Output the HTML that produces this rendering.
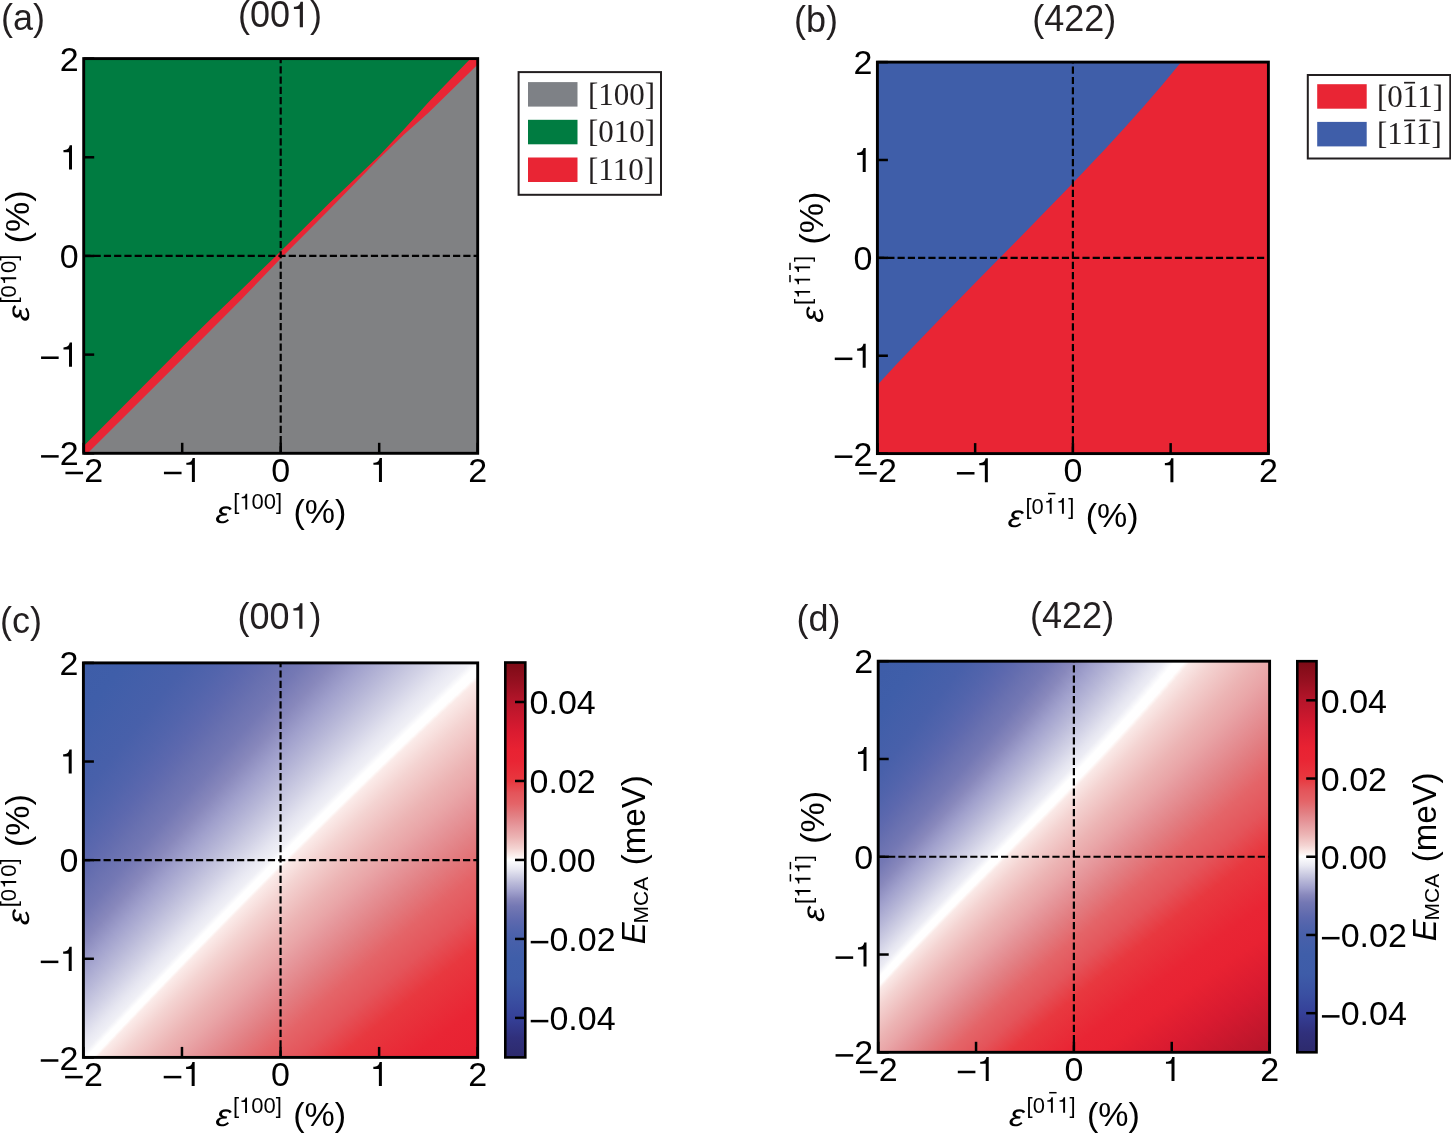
<!DOCTYPE html>
<html><head><meta charset="utf-8"><title>Figure</title>
<style>
html,body{margin:0;padding:0;background:#fff;}
body{width:1451px;height:1133px;overflow:hidden;}
svg{display:block;font-family:"Liberation Sans", sans-serif;will-change:transform;}
svg text{font-family:"Liberation Sans", sans-serif;fill:#000;}
svg text.serif{font-family:"Liberation Serif", serif;fill:#231f20;}
svg text.tc{fill:#231f20;}
</style></head><body>
<svg width="1451" height="1133" viewBox="0 0 1451 1133">
<defs>
<clipPath id="clipa"><rect x="83.7" y="58.6" width="394.00" height="394.70"/></clipPath>
<linearGradient id="hgc" gradientUnits="userSpaceOnUse"><stop offset="0.00000" stop-color="#2d2a6c"/><stop offset="0.05415" stop-color="#2d2a6c"/><stop offset="0.09927" stop-color="#30307c"/><stop offset="0.14440" stop-color="#354098"/><stop offset="0.18952" stop-color="#3a50a2"/><stop offset="0.23465" stop-color="#3e5ca8"/><stop offset="0.25089" stop-color="#3e5da8"/><stop offset="0.27946" stop-color="#3f5ea9"/><stop offset="0.32411" stop-color="#4860aa"/><stop offset="0.34732" stop-color="#5264ac"/><stop offset="0.36429" stop-color="#5c68ae"/><stop offset="0.37589" stop-color="#646daf"/><stop offset="0.38143" stop-color="#6870b0"/><stop offset="0.39898" stop-color="#7478b4"/><stop offset="0.41653" stop-color="#8888bc"/><stop offset="0.43315" stop-color="#a0a0cc"/><stop offset="0.43777" stop-color="#a6a6cf"/><stop offset="0.45144" stop-color="#b8b8d8"/><stop offset="0.46784" stop-color="#cfcfe4"/><stop offset="0.46875" stop-color="#d0d0e5"/><stop offset="0.48125" stop-color="#e3e3ef"/><stop offset="0.48500" stop-color="#e8e8f2"/><stop offset="0.49232" stop-color="#f0f0f6"/><stop offset="0.49723" stop-color="#ffffff"/><stop offset="0.50000" stop-color="#ffffff"/><stop offset="0.50277" stop-color="#fffefe"/><stop offset="0.50473" stop-color="#fcf0ee"/><stop offset="0.50545" stop-color="#fbebe9"/><stop offset="0.51875" stop-color="#f5d7d5"/><stop offset="0.52067" stop-color="#f4d4d2"/><stop offset="0.53125" stop-color="#f1c7c6"/><stop offset="0.54721" stop-color="#ecb4b4"/><stop offset="0.56223" stop-color="#e9a5a7"/><stop offset="0.57325" stop-color="#e6989c"/><stop offset="0.59698" stop-color="#e27e82"/><stop offset="0.62072" stop-color="#e46468"/><stop offset="0.62411" stop-color="#e46266"/><stop offset="0.64452" stop-color="#e4545a"/><stop offset="0.67003" stop-color="#e8383f"/><stop offset="0.71254" stop-color="#e92534"/><stop offset="0.73805" stop-color="#e82232"/><stop offset="0.74911" stop-color="#e42031"/><stop offset="0.78058" stop-color="#d81a30"/><stop offset="0.84011" stop-color="#b5152a"/><stop offset="0.88263" stop-color="#961020"/><stop offset="0.92516" stop-color="#7c0b16"/><stop offset="1.00000" stop-color="#7c0b16"/></linearGradient>
<clipPath id="clipc"><rect x="83.4" y="662.9" width="394.30" height="394.50"/></clipPath>
<linearGradient id="hgc_0" href="#hgc" x1="-251.08" y1="718.83" x2="428.58" y2="1398.14"/>
<linearGradient id="hgc_1" href="#hgc" x1="-245.98" y1="709.74" x2="437.21" y2="1392.59"/>
<linearGradient id="hgc_2" href="#hgc" x1="-240.88" y1="700.65" x2="445.87" y2="1387.06"/>
<linearGradient id="hgc_3" href="#hgc" x1="-235.80" y1="691.55" x2="454.56" y2="1381.55"/>
<linearGradient id="hgc_4" href="#hgc" x1="-230.73" y1="682.43" x2="463.27" y2="1376.08"/>
<linearGradient id="hgc_5" href="#hgc" x1="-225.67" y1="673.31" x2="472.01" y2="1370.63"/>
<linearGradient id="hgc_6" href="#hgc" x1="-220.62" y1="664.17" x2="480.77" y2="1365.21"/>
<linearGradient id="hgc_7" href="#hgc" x1="-215.59" y1="655.02" x2="489.57" y2="1359.81"/>
<linearGradient id="hgc_8" href="#hgc" x1="-210.56" y1="645.86" x2="498.39" y2="1354.45"/>
<linearGradient id="hgc_9" href="#hgc" x1="-205.55" y1="636.68" x2="507.24" y2="1349.11"/>
<linearGradient id="hgc_10" href="#hgc" x1="-200.55" y1="627.50" x2="516.12" y2="1343.81"/>
<linearGradient id="hgc_11" href="#hgc" x1="-195.57" y1="618.30" x2="525.03" y2="1338.53"/>
<linearGradient id="hgc_12" href="#hgc" x1="-190.59" y1="609.09" x2="533.97" y2="1333.28"/>
<linearGradient id="hgc_13" href="#hgc" x1="-185.63" y1="599.86" x2="542.94" y2="1328.06"/>
<linearGradient id="hgc_14" href="#hgc" x1="-180.69" y1="590.62" x2="551.94" y2="1322.88"/>
<linearGradient id="hgc_15" href="#hgc" x1="-175.76" y1="581.36" x2="560.98" y2="1317.72"/>
<linearGradient id="hgc_16" href="#hgc" x1="-170.84" y1="572.10" x2="570.04" y2="1312.60"/>
<linearGradient id="hgc_17" href="#hgc" x1="-165.94" y1="562.81" x2="579.13" y2="1307.51"/>
<linearGradient id="hgc_18" href="#hgc" x1="-161.05" y1="553.51" x2="588.26" y2="1302.45"/>
<linearGradient id="hgc_19" href="#hgc" x1="-156.18" y1="544.20" x2="597.42" y2="1297.42"/>
<linearGradient id="hgc_20" href="#hgc" x1="-151.33" y1="534.86" x2="606.62" y2="1292.43"/>
<linearGradient id="hgc_21" href="#hgc" x1="-146.49" y1="525.52" x2="615.85" y2="1287.47"/>
<linearGradient id="hgc_22" href="#hgc" x1="-141.67" y1="516.15" x2="625.11" y2="1282.54"/>
<linearGradient id="hgc_23" href="#hgc" x1="-136.87" y1="506.77" x2="634.40" y2="1277.65"/>
<linearGradient id="hgc_24" href="#hgc" x1="-132.08" y1="497.37" x2="643.74" y2="1272.79"/>
<linearGradient id="hgc_25" href="#hgc" x1="-127.31" y1="487.95" x2="653.10" y2="1267.97"/>
<linearGradient id="hgc_26" href="#hgc" x1="-122.57" y1="478.51" x2="662.51" y2="1263.19"/>
<linearGradient id="hgc_27" href="#hgc" x1="-117.84" y1="469.06" x2="671.95" y2="1258.44"/>
<linearGradient id="hgc_28" href="#hgc" x1="-113.13" y1="459.58" x2="681.42" y2="1253.73"/>
<linearGradient id="hgc_29" href="#hgc" x1="-108.44" y1="450.08" x2="690.94" y2="1249.06"/>
<linearGradient id="hgc_30" href="#hgc" x1="-103.77" y1="440.57" x2="700.49" y2="1244.42"/>
<linearGradient id="hgc_31" href="#hgc" x1="-99.12" y1="431.03" x2="710.08" y2="1239.83"/>
<linearGradient id="hgc_32" href="#hgc" x1="-94.50" y1="421.47" x2="719.72" y2="1235.27"/>
<linearGradient id="hgc_33" href="#hgc" x1="-89.89" y1="411.89" x2="729.39" y2="1230.75"/>
<linearGradient id="hgc_34" href="#hgc" x1="-85.31" y1="402.28" x2="739.10" y2="1226.28"/>
<linearGradient id="hgc_35" href="#hgc" x1="-80.75" y1="392.66" x2="748.86" y2="1221.85"/>
<linearGradient id="hgc_36" href="#hgc" x1="-76.22" y1="383.00" x2="758.65" y2="1217.45"/>
<linearGradient id="hgc_37" href="#hgc" x1="-71.71" y1="373.33" x2="768.49" y2="1213.10"/>
<linearGradient id="hgc_38" href="#hgc" x1="-67.23" y1="363.63" x2="778.37" y2="1208.80"/>
<linearGradient id="hgc_39" href="#hgc" x1="-62.77" y1="353.90" x2="788.30" y2="1204.54"/>
<linearGradient id="hgc_40" href="#hgc" x1="-58.34" y1="344.14" x2="798.27" y2="1200.32"/>
<linearGradient id="hgc_41" href="#hgc" x1="-53.93" y1="334.36" x2="808.29" y2="1196.15"/>
<linearGradient id="hgc_42" href="#hgc" x1="-49.56" y1="324.56" x2="818.35" y2="1192.02"/>
<linearGradient id="hgc_43" href="#hgc" x1="-45.21" y1="314.72" x2="828.46" y2="1187.94"/>
<linearGradient id="hgc_44" href="#hgc" x1="-40.89" y1="304.85" x2="838.62" y2="1183.91"/>
<linearGradient id="hgc_45" href="#hgc" x1="-36.60" y1="294.96" x2="848.82" y2="1179.93"/>
<linearGradient id="hgc_46" href="#hgc" x1="-32.34" y1="285.03" x2="859.08" y2="1176.00"/>
<linearGradient id="hgc_47" href="#hgc" x1="-28.11" y1="275.07" x2="869.39" y2="1172.12"/>
<linearGradient id="hgc_48" href="#hgc" x1="-23.92" y1="265.08" x2="879.74" y2="1168.29"/>
<linearGradient id="hgc_49" href="#hgc" x1="-19.75" y1="255.06" x2="890.15" y2="1164.51"/>
<linearGradient id="hgc_50" href="#hgc" x1="-15.63" y1="245.00" x2="900.62" y2="1160.78"/>
<linearGradient id="hgc_51" href="#hgc" x1="-11.53" y1="234.91" x2="911.13" y2="1157.11"/>
<linearGradient id="hgc_52" href="#hgc" x1="-7.48" y1="224.78" x2="921.71" y2="1153.49"/>
<linearGradient id="hgc_53" href="#hgc" x1="-3.45" y1="214.62" x2="932.33" y2="1149.93"/>
<linearGradient id="hgc_54" href="#hgc" x1="0.53" y1="204.42" x2="943.02" y2="1146.43"/>
<linearGradient id="hgc_55" href="#hgc" x1="4.47" y1="194.18" x2="953.76" y2="1142.98"/>
<linearGradient id="hgd" gradientUnits="userSpaceOnUse"><stop offset="0.00000" stop-color="#2d2a6c"/><stop offset="0.05415" stop-color="#2d2a6c"/><stop offset="0.09927" stop-color="#30307c"/><stop offset="0.14440" stop-color="#354098"/><stop offset="0.18952" stop-color="#3a50a2"/><stop offset="0.23465" stop-color="#3e5ca8"/><stop offset="0.25089" stop-color="#3e5da8"/><stop offset="0.27946" stop-color="#3f5ea9"/><stop offset="0.32411" stop-color="#4860aa"/><stop offset="0.34732" stop-color="#5264ac"/><stop offset="0.36429" stop-color="#5c68ae"/><stop offset="0.37589" stop-color="#646daf"/><stop offset="0.38143" stop-color="#6870b0"/><stop offset="0.39898" stop-color="#7478b4"/><stop offset="0.41653" stop-color="#8888bc"/><stop offset="0.43315" stop-color="#a0a0cc"/><stop offset="0.43777" stop-color="#a6a6cf"/><stop offset="0.45144" stop-color="#b8b8d8"/><stop offset="0.46784" stop-color="#cfcfe4"/><stop offset="0.46875" stop-color="#d0d0e5"/><stop offset="0.48125" stop-color="#e3e3ef"/><stop offset="0.48500" stop-color="#e8e8f2"/><stop offset="0.48862" stop-color="#ececf4"/><stop offset="0.49617" stop-color="#ffffff"/><stop offset="0.50000" stop-color="#ffffff"/><stop offset="0.50383" stop-color="#fffefe"/><stop offset="0.50649" stop-color="#fcf0ee"/><stop offset="0.50789" stop-color="#fae9e7"/><stop offset="0.52120" stop-color="#f5d7d5"/><stop offset="0.52337" stop-color="#f4d4d2"/><stop offset="0.53533" stop-color="#f1c7c6"/><stop offset="0.55337" stop-color="#ecb4b4"/><stop offset="0.57035" stop-color="#e9a5a7"/><stop offset="0.58281" stop-color="#e6989c"/><stop offset="0.60963" stop-color="#e27e82"/><stop offset="0.63646" stop-color="#e46468"/><stop offset="0.64030" stop-color="#e46266"/><stop offset="0.66337" stop-color="#e4545a"/><stop offset="0.69220" stop-color="#e8383f"/><stop offset="0.74027" stop-color="#e92534"/><stop offset="0.76910" stop-color="#e82232"/><stop offset="0.78160" stop-color="#e42031"/><stop offset="0.81717" stop-color="#d81a30"/><stop offset="0.88447" stop-color="#b5152a"/><stop offset="0.93254" stop-color="#961020"/><stop offset="0.98061" stop-color="#7c0b16"/></linearGradient>
<clipPath id="clipd"><rect x="878.2" y="661.2" width="391.40" height="391.10"/></clipPath>
<linearGradient id="hgd_0" href="#hgd" x1="590.06" y1="775.19" x2="1103.16" y2="1261.35"/>
<linearGradient id="hgd_1" href="#hgd" x1="594.88" y1="766.05" x2="1111.35" y2="1255.41"/>
<linearGradient id="hgd_2" href="#hgd" x1="599.71" y1="756.93" x2="1119.60" y2="1249.52"/>
<linearGradient id="hgd_3" href="#hgd" x1="604.56" y1="747.82" x2="1127.91" y2="1243.69"/>
<linearGradient id="hgd_4" href="#hgd" x1="609.43" y1="738.72" x2="1136.28" y2="1237.92"/>
<linearGradient id="hgd_5" href="#hgd" x1="614.30" y1="729.63" x2="1144.71" y2="1232.20"/>
<linearGradient id="hgd_6" href="#hgd" x1="619.18" y1="720.55" x2="1153.20" y2="1226.54"/>
<linearGradient id="hgd_7" href="#hgd" x1="624.07" y1="711.48" x2="1161.74" y2="1220.93"/>
<linearGradient id="hgd_8" href="#hgd" x1="628.96" y1="702.41" x2="1170.34" y2="1215.37"/>
<linearGradient id="hgd_9" href="#hgd" x1="633.86" y1="693.35" x2="1179.00" y2="1209.86"/>
<linearGradient id="hgd_10" href="#hgd" x1="638.76" y1="684.29" x2="1187.70" y2="1204.41"/>
<linearGradient id="hgd_11" href="#hgd" x1="643.66" y1="675.23" x2="1196.46" y2="1199.01"/>
<linearGradient id="hgd_12" href="#hgd" x1="648.56" y1="666.16" x2="1205.28" y2="1193.65"/>
<linearGradient id="hgd_13" href="#hgd" x1="653.45" y1="657.09" x2="1214.14" y2="1188.34"/>
<linearGradient id="hgd_14" href="#hgd" x1="658.33" y1="648.01" x2="1223.05" y2="1183.08"/>
<linearGradient id="hgd_15" href="#hgd" x1="663.20" y1="638.92" x2="1232.01" y2="1177.87"/>
<linearGradient id="hgd_16" href="#hgd" x1="668.06" y1="629.82" x2="1241.02" y2="1172.70"/>
<linearGradient id="hgd_17" href="#hgd" x1="672.90" y1="620.70" x2="1250.07" y2="1167.57"/>
<linearGradient id="hgd_18" href="#hgd" x1="677.73" y1="611.57" x2="1259.16" y2="1162.48"/>
<linearGradient id="hgd_19" href="#hgd" x1="682.53" y1="602.42" x2="1268.30" y2="1157.43"/>
<linearGradient id="hgd_20" href="#hgd" x1="687.31" y1="593.24" x2="1277.48" y2="1152.43"/>
<linearGradient id="hgd_21" href="#hgd" x1="692.06" y1="584.04" x2="1286.70" y2="1147.46"/>
<linearGradient id="hgd_22" href="#hgd" x1="696.79" y1="574.81" x2="1295.95" y2="1142.52"/>
<linearGradient id="hgd_23" href="#hgd" x1="701.48" y1="565.55" x2="1305.25" y2="1137.62"/>
<linearGradient id="hgd_24" href="#hgd" x1="706.13" y1="556.25" x2="1314.58" y2="1132.76"/>
<linearGradient id="hgd_25" href="#hgd" x1="710.75" y1="546.92" x2="1323.94" y2="1127.93"/>
<linearGradient id="hgd_26" href="#hgd" x1="715.32" y1="537.55" x2="1333.34" y2="1123.12"/>
<linearGradient id="hgd_27" href="#hgd" x1="719.85" y1="528.14" x2="1342.77" y2="1118.35"/>
<linearGradient id="hgd_28" href="#hgd" x1="724.33" y1="518.68" x2="1352.22" y2="1113.61"/>
<linearGradient id="hgd_29" href="#hgd" x1="728.76" y1="509.17" x2="1361.71" y2="1108.90"/>
<linearGradient id="hgd_30" href="#hgd" x1="733.14" y1="499.62" x2="1371.23" y2="1104.21"/>
<linearGradient id="hgd_31" href="#hgd" x1="737.46" y1="490.00" x2="1380.77" y2="1099.55"/>
<linearGradient id="hgd_32" href="#hgd" x1="741.72" y1="480.34" x2="1390.34" y2="1094.91"/>
<linearGradient id="hgd_33" href="#hgd" x1="745.91" y1="470.61" x2="1399.94" y2="1090.29"/>
<linearGradient id="hgd_34" href="#hgd" x1="750.04" y1="460.82" x2="1409.56" y2="1085.70"/>
<linearGradient id="hgd_35" href="#hgd" x1="754.11" y1="450.96" x2="1419.20" y2="1081.14"/>
<linearGradient id="hgd_36" href="#hgd" x1="758.10" y1="441.04" x2="1428.87" y2="1076.59"/>
<linearGradient id="hgd_37" href="#hgd" x1="762.01" y1="431.04" x2="1438.56" y2="1072.07"/>
<linearGradient id="hgd_38" href="#hgd" x1="765.85" y1="420.97" x2="1448.27" y2="1067.57"/>
<linearGradient id="hgd_39" href="#hgd" x1="769.60" y1="410.82" x2="1458.00" y2="1063.08"/>
<linearGradient id="hgd_40" href="#hgd" x1="773.28" y1="400.60" x2="1467.76" y2="1058.62"/>
<linearGradient id="hgd_41" href="#hgd" x1="776.86" y1="390.29" x2="1477.54" y2="1054.18"/>
<linearGradient id="hgd_42" href="#hgd" x1="780.36" y1="379.90" x2="1487.34" y2="1049.77"/>
<linearGradient id="hgd_43" href="#hgd" x1="783.76" y1="369.42" x2="1497.16" y2="1045.37"/>
<linearGradient id="hgd_44" href="#hgd" x1="787.08" y1="358.86" x2="1507.01" y2="1040.99"/>
<linearGradient id="hgd_45" href="#hgd" x1="790.29" y1="348.20" x2="1516.88" y2="1036.64"/>
<linearGradient id="hgd_46" href="#hgd" x1="793.40" y1="337.44" x2="1526.77" y2="1032.31"/>
<linearGradient id="hgd_47" href="#hgd" x1="796.41" y1="326.59" x2="1536.69" y2="1028.01"/>
<linearGradient id="hgd_48" href="#hgd" x1="799.32" y1="315.64" x2="1546.64" y2="1023.72"/>
<linearGradient id="hgd_49" href="#hgd" x1="802.11" y1="304.58" x2="1556.61" y2="1019.47"/>
<linearGradient id="hgd_50" href="#hgd" x1="804.80" y1="293.42" x2="1566.61" y2="1015.24"/>
<linearGradient id="hgd_51" href="#hgd" x1="807.37" y1="282.15" x2="1576.64" y2="1011.04"/>
<linearGradient id="hgd_52" href="#hgd" x1="809.83" y1="270.78" x2="1586.70" y2="1006.87"/>
<linearGradient id="hgd_53" href="#hgd" x1="812.16" y1="259.29" x2="1596.80" y2="1002.72"/>
<linearGradient id="hgd_54" href="#hgd" x1="814.38" y1="247.68" x2="1606.92" y2="998.62"/>
<linearGradient id="hgd_55" href="#hgd" x1="816.47" y1="235.96" x2="1617.09" y2="994.54"/>
<linearGradient id="cbc" x1="0" y1="0" x2="0" y2="1"><stop offset="0.0000" stop-color="#7c0b16"/><stop offset="0.0500" stop-color="#961020"/><stop offset="0.1000" stop-color="#b5152a"/><stop offset="0.1700" stop-color="#d81a30"/><stop offset="0.2200" stop-color="#e82232"/><stop offset="0.2500" stop-color="#e92534"/><stop offset="0.3000" stop-color="#e8383f"/><stop offset="0.3300" stop-color="#e4545a"/><stop offset="0.3580" stop-color="#e46468"/><stop offset="0.3860" stop-color="#e27e82"/><stop offset="0.4140" stop-color="#e6989c"/><stop offset="0.4430" stop-color="#ecb4b4"/><stop offset="0.4710" stop-color="#f4d4d2"/><stop offset="0.4900" stop-color="#fcf0ee"/><stop offset="0.5000" stop-color="#ffffff"/><stop offset="0.5230" stop-color="#e8e8f2"/><stop offset="0.5420" stop-color="#cfcfe4"/><stop offset="0.5600" stop-color="#b8b8d8"/><stop offset="0.5800" stop-color="#a0a0cc"/><stop offset="0.5980" stop-color="#8888bc"/><stop offset="0.6170" stop-color="#7478b4"/><stop offset="0.6360" stop-color="#6870b0"/><stop offset="0.6550" stop-color="#5c68ae"/><stop offset="0.6740" stop-color="#5264ac"/><stop offset="0.7000" stop-color="#4860aa"/><stop offset="0.7500" stop-color="#3f5ea9"/><stop offset="0.8000" stop-color="#3e5ca8"/><stop offset="0.8500" stop-color="#3a50a2"/><stop offset="0.9000" stop-color="#354098"/><stop offset="0.9500" stop-color="#30307c"/><stop offset="1.0000" stop-color="#2d2a6c"/></linearGradient>
<linearGradient id="cbd" x1="0" y1="0" x2="0" y2="1"><stop offset="0.0000" stop-color="#7c0b16"/><stop offset="0.0500" stop-color="#961020"/><stop offset="0.1000" stop-color="#b5152a"/><stop offset="0.1700" stop-color="#d81a30"/><stop offset="0.2200" stop-color="#e82232"/><stop offset="0.2500" stop-color="#e92534"/><stop offset="0.3000" stop-color="#e8383f"/><stop offset="0.3300" stop-color="#e4545a"/><stop offset="0.3580" stop-color="#e46468"/><stop offset="0.3860" stop-color="#e27e82"/><stop offset="0.4140" stop-color="#e6989c"/><stop offset="0.4430" stop-color="#ecb4b4"/><stop offset="0.4710" stop-color="#f4d4d2"/><stop offset="0.4900" stop-color="#fcf0ee"/><stop offset="0.5000" stop-color="#ffffff"/><stop offset="0.5230" stop-color="#e8e8f2"/><stop offset="0.5420" stop-color="#cfcfe4"/><stop offset="0.5600" stop-color="#b8b8d8"/><stop offset="0.5800" stop-color="#a0a0cc"/><stop offset="0.5980" stop-color="#8888bc"/><stop offset="0.6170" stop-color="#7478b4"/><stop offset="0.6360" stop-color="#6870b0"/><stop offset="0.6550" stop-color="#5c68ae"/><stop offset="0.6740" stop-color="#5264ac"/><stop offset="0.7000" stop-color="#4860aa"/><stop offset="0.7500" stop-color="#3f5ea9"/><stop offset="0.8000" stop-color="#3e5ca8"/><stop offset="0.8500" stop-color="#3a50a2"/><stop offset="0.9000" stop-color="#354098"/><stop offset="0.9500" stop-color="#30307c"/><stop offset="1.0000" stop-color="#2d2a6c"/></linearGradient>
</defs>
<rect width="1451" height="1133" fill="#fff"/>
<rect x="83.7" y="58.6" width="394.00" height="394.70" fill="#808183"/>
<polygon points="83.7,58.6 477.7,58.6 83.7,453.3" fill="#007c41"/>
<polygon clip-path="url(#clipa)" points="83.70,445.90 182.20,347.12 211.75,318.02 241.30,289.72 280.70,251.35 329.95,202.51 354.57,179.14 379.20,155.68 403.82,129.61 428.45,102.24 477.70,51.10 477.70,64.50 428.45,112.74 403.82,134.81 379.20,158.58 354.57,183.64 329.95,209.01 280.70,258.45 241.30,299.42 211.75,329.32 182.20,359.02 83.70,457.20" fill="#e92534"/>
<rect x="877.4" y="62.1" width="391.00" height="391.50" fill="#e92534"/>
<path d="M877.4,62.1 L1181.2,62.1 L1162.2,85.0 L1143.2,106.9 L1124.2,128.2 L1105.2,148.9 L1086.2,169.1 L1067.2,189.0 L1048.2,208.6 L1029.2,228.0 L1010.3,247.3 L991.3,266.5 L972.3,285.8 L953.3,305.2 L934.3,324.8 L915.3,344.4 L896.3,364.4 L877.4,384.9 Z" fill="#3f5ea9"/>
<g clip-path="url(#clipc)">
<polygon points="-413.11,563.97 -405.32,556.16 584.88,1545.86 577.09,1553.66" fill="url(#hgc_0)"/>
<polygon points="-406.02,556.87 -398.22,549.07 591.98,1538.77 584.18,1546.57" fill="url(#hgc_1)"/>
<polygon points="-398.93,549.78 -391.13,541.97 599.07,1531.67 591.27,1539.47" fill="url(#hgc_2)"/>
<polygon points="-391.84,542.68 -384.04,534.88 606.16,1524.58 598.36,1532.38" fill="url(#hgc_3)"/>
<polygon points="-384.75,535.58 -376.95,527.78 613.25,1517.48 605.45,1525.28" fill="url(#hgc_4)"/>
<polygon points="-377.66,528.49 -369.86,520.69 620.34,1510.39 612.54,1518.19" fill="url(#hgc_5)"/>
<polygon points="-370.56,521.39 -362.77,513.59 627.43,1503.29 619.64,1511.09" fill="url(#hgc_6)"/>
<polygon points="-363.47,514.30 -355.67,506.50 634.53,1496.20 626.73,1504.00" fill="url(#hgc_7)"/>
<polygon points="-356.38,507.20 -348.58,499.40 641.62,1489.10 633.82,1496.90" fill="url(#hgc_8)"/>
<polygon points="-349.29,500.11 -341.49,492.31 648.71,1482.00 640.91,1489.81" fill="url(#hgc_9)"/>
<polygon points="-342.20,493.01 -334.40,485.21 655.80,1474.91 648.00,1482.71" fill="url(#hgc_10)"/>
<polygon points="-335.11,485.92 -327.31,478.12 662.89,1467.81 655.09,1475.62" fill="url(#hgc_11)"/>
<polygon points="-328.02,478.82 -320.22,471.02 669.98,1460.72 662.19,1468.52" fill="url(#hgc_12)"/>
<polygon points="-320.92,471.73 -313.13,463.93 677.08,1453.62 669.28,1461.43" fill="url(#hgc_13)"/>
<polygon points="-313.83,464.63 -306.03,456.83 684.17,1446.53 676.37,1454.33" fill="url(#hgc_14)"/>
<polygon points="-306.74,457.54 -298.94,449.74 691.26,1439.43 683.46,1447.24" fill="url(#hgc_15)"/>
<polygon points="-299.65,450.44 -291.85,442.64 698.35,1432.34 690.55,1440.14" fill="url(#hgc_16)"/>
<polygon points="-292.56,443.35 -284.76,435.55 705.44,1425.24 697.64,1433.05" fill="url(#hgc_17)"/>
<polygon points="-285.47,436.25 -277.67,428.45 712.53,1418.15 704.73,1425.95" fill="url(#hgc_18)"/>
<polygon points="-278.37,429.16 -270.58,421.35 719.62,1411.05 711.83,1418.86" fill="url(#hgc_19)"/>
<polygon points="-271.28,422.06 -263.48,414.26 726.72,1403.96 718.92,1411.76" fill="url(#hgc_20)"/>
<polygon points="-264.19,414.97 -256.39,407.16 733.81,1396.86 726.01,1404.67" fill="url(#hgc_21)"/>
<polygon points="-257.10,407.87 -249.30,400.07 740.90,1389.77 733.10,1397.57" fill="url(#hgc_22)"/>
<polygon points="-250.01,400.78 -242.21,392.97 747.99,1382.67 740.19,1390.48" fill="url(#hgc_23)"/>
<polygon points="-242.92,393.68 -235.12,385.88 755.08,1375.58 747.28,1383.38" fill="url(#hgc_24)"/>
<polygon points="-235.82,386.59 -228.03,378.78 762.17,1368.48 754.38,1376.28" fill="url(#hgc_25)"/>
<polygon points="-228.73,379.49 -220.93,371.69 769.27,1361.39 761.47,1369.19" fill="url(#hgc_26)"/>
<polygon points="-221.64,372.40 -213.84,364.59 776.36,1354.29 768.56,1362.09" fill="url(#hgc_27)"/>
<polygon points="-214.55,365.30 -206.75,357.50 783.45,1347.20 775.65,1355.00" fill="url(#hgc_28)"/>
<polygon points="-207.46,358.21 -199.66,350.40 790.54,1340.10 782.74,1347.90" fill="url(#hgc_29)"/>
<polygon points="-200.37,351.11 -192.57,343.31 797.63,1333.01 789.83,1340.81" fill="url(#hgc_30)"/>
<polygon points="-193.28,344.02 -185.48,336.21 804.72,1325.91 796.92,1333.71" fill="url(#hgc_31)"/>
<polygon points="-186.18,336.92 -178.39,329.12 811.81,1318.82 804.02,1326.62" fill="url(#hgc_32)"/>
<polygon points="-179.09,329.82 -171.29,322.02 818.91,1311.72 811.11,1319.52" fill="url(#hgc_33)"/>
<polygon points="-172.00,322.73 -164.20,314.93 826.00,1304.63 818.20,1312.43" fill="url(#hgc_34)"/>
<polygon points="-164.91,315.63 -157.11,307.83 833.09,1297.53 825.29,1305.33" fill="url(#hgc_35)"/>
<polygon points="-157.82,308.54 -150.02,300.74 840.18,1290.44 832.38,1298.24" fill="url(#hgc_36)"/>
<polygon points="-150.73,301.44 -142.93,293.64 847.27,1283.34 839.47,1291.14" fill="url(#hgc_37)"/>
<polygon points="-143.63,294.35 -135.84,286.55 854.36,1276.25 846.57,1284.05" fill="url(#hgc_38)"/>
<polygon points="-136.54,287.25 -128.74,279.45 861.46,1269.15 853.66,1276.95" fill="url(#hgc_39)"/>
<polygon points="-129.45,280.16 -121.65,272.36 868.55,1262.05 860.75,1269.86" fill="url(#hgc_40)"/>
<polygon points="-122.36,273.06 -114.56,265.26 875.64,1254.96 867.84,1262.76" fill="url(#hgc_41)"/>
<polygon points="-115.27,265.97 -107.47,258.17 882.73,1247.86 874.93,1255.67" fill="url(#hgc_42)"/>
<polygon points="-108.18,258.87 -100.38,251.07 889.82,1240.77 882.02,1248.57" fill="url(#hgc_43)"/>
<polygon points="-101.09,251.78 -93.29,243.98 896.91,1233.67 889.12,1241.48" fill="url(#hgc_44)"/>
<polygon points="-93.99,244.68 -86.20,236.88 904.01,1226.58 896.21,1234.38" fill="url(#hgc_45)"/>
<polygon points="-86.90,237.59 -79.10,229.79 911.10,1219.48 903.30,1227.29" fill="url(#hgc_46)"/>
<polygon points="-79.81,230.49 -72.01,222.69 918.19,1212.39 910.39,1220.19" fill="url(#hgc_47)"/>
<polygon points="-72.72,223.40 -64.92,215.60 925.28,1205.29 917.48,1213.10" fill="url(#hgc_48)"/>
<polygon points="-65.63,216.30 -57.83,208.50 932.37,1198.20 924.57,1206.00" fill="url(#hgc_49)"/>
<polygon points="-58.54,209.21 -50.74,201.40 939.46,1191.10 931.66,1198.91" fill="url(#hgc_50)"/>
<polygon points="-51.44,202.11 -43.65,194.31 946.55,1184.01 938.76,1191.81" fill="url(#hgc_51)"/>
<polygon points="-44.35,195.02 -36.55,187.21 953.65,1176.91 945.85,1184.72" fill="url(#hgc_52)"/>
<polygon points="-37.26,187.92 -29.46,180.12 960.74,1169.82 952.94,1177.62" fill="url(#hgc_53)"/>
<polygon points="-30.17,180.83 -22.37,173.02 967.83,1162.72 960.03,1170.52" fill="url(#hgc_54)"/>
<polygon points="-23.08,173.73 -15.99,166.64 974.21,1156.33 967.12,1163.43" fill="url(#hgc_55)"/>
</g>
<g clip-path="url(#clipd)">
<polygon points="333.73,539.17 341.26,531.22 1357.52,1494.13 1349.99,1502.08" fill="url(#hgd_0)"/>
<polygon points="340.57,531.95 348.10,524.00 1364.37,1486.91 1356.84,1494.86" fill="url(#hgd_1)"/>
<polygon points="347.41,524.72 354.94,516.78 1371.21,1479.69 1363.68,1487.64" fill="url(#hgd_2)"/>
<polygon points="354.26,517.50 361.79,509.56 1378.05,1472.47 1370.52,1480.42" fill="url(#hgd_3)"/>
<polygon points="361.10,510.28 368.63,502.33 1384.89,1465.25 1377.36,1473.19" fill="url(#hgd_4)"/>
<polygon points="367.94,503.06 375.47,495.11 1391.74,1458.03 1384.21,1465.97" fill="url(#hgd_5)"/>
<polygon points="374.78,495.84 382.31,487.89 1398.58,1450.80 1391.05,1458.75" fill="url(#hgd_6)"/>
<polygon points="381.62,488.62 389.15,480.67 1405.42,1443.58 1397.89,1451.53" fill="url(#hgd_7)"/>
<polygon points="388.47,481.40 396.00,473.45 1412.26,1436.36 1404.73,1444.31" fill="url(#hgd_8)"/>
<polygon points="395.31,474.17 402.84,466.23 1419.11,1429.14 1411.58,1437.09" fill="url(#hgd_9)"/>
<polygon points="402.15,466.95 409.68,459.00 1425.95,1421.92 1418.42,1429.87" fill="url(#hgd_10)"/>
<polygon points="408.99,459.73 416.52,451.78 1432.79,1414.70 1425.26,1422.64" fill="url(#hgd_11)"/>
<polygon points="415.84,452.51 423.37,444.56 1439.63,1407.48 1432.10,1415.42" fill="url(#hgd_12)"/>
<polygon points="422.68,445.29 430.21,437.34 1446.48,1400.25 1438.95,1408.20" fill="url(#hgd_13)"/>
<polygon points="429.52,438.07 437.05,430.12 1453.32,1393.03 1445.79,1400.98" fill="url(#hgd_14)"/>
<polygon points="436.36,430.84 443.89,422.90 1460.16,1385.81 1452.63,1393.76" fill="url(#hgd_15)"/>
<polygon points="443.21,423.62 450.74,415.68 1467.00,1378.59 1459.47,1386.54" fill="url(#hgd_16)"/>
<polygon points="450.05,416.40 457.58,408.45 1473.85,1371.37 1466.32,1379.32" fill="url(#hgd_17)"/>
<polygon points="456.89,409.18 464.42,401.23 1480.69,1364.15 1473.16,1372.09" fill="url(#hgd_18)"/>
<polygon points="463.73,401.96 471.26,394.01 1487.53,1356.92 1480.00,1364.87" fill="url(#hgd_19)"/>
<polygon points="470.58,394.74 478.11,386.79 1494.37,1349.70 1486.84,1357.65" fill="url(#hgd_20)"/>
<polygon points="477.42,387.52 484.95,379.57 1501.21,1342.48 1493.68,1350.43" fill="url(#hgd_21)"/>
<polygon points="484.26,380.29 491.79,372.35 1508.06,1335.26 1500.53,1343.21" fill="url(#hgd_22)"/>
<polygon points="491.10,373.07 498.63,365.13 1514.90,1328.04 1507.37,1335.99" fill="url(#hgd_23)"/>
<polygon points="497.95,365.85 505.48,357.90 1521.74,1320.82 1514.21,1328.76" fill="url(#hgd_24)"/>
<polygon points="504.79,358.63 512.32,350.68 1528.58,1313.60 1521.05,1321.54" fill="url(#hgd_25)"/>
<polygon points="511.63,351.41 519.16,343.46 1535.43,1306.37 1527.90,1314.32" fill="url(#hgd_26)"/>
<polygon points="518.47,344.19 526.00,336.24 1542.27,1299.15 1534.74,1307.10" fill="url(#hgd_27)"/>
<polygon points="525.31,336.97 532.85,329.02 1549.11,1291.93 1541.58,1299.88" fill="url(#hgd_28)"/>
<polygon points="532.16,329.74 539.69,321.80 1555.95,1284.71 1548.42,1292.66" fill="url(#hgd_29)"/>
<polygon points="539.00,322.52 546.53,314.57 1562.80,1277.49 1555.27,1285.44" fill="url(#hgd_30)"/>
<polygon points="545.84,315.30 553.37,307.35 1569.64,1270.27 1562.11,1278.21" fill="url(#hgd_31)"/>
<polygon points="552.68,308.08 560.21,300.13 1576.48,1263.05 1568.95,1270.99" fill="url(#hgd_32)"/>
<polygon points="559.53,300.86 567.06,292.91 1583.32,1255.82 1575.79,1263.77" fill="url(#hgd_33)"/>
<polygon points="566.37,293.64 573.90,285.69 1590.17,1248.60 1582.64,1256.55" fill="url(#hgd_34)"/>
<polygon points="573.21,286.41 580.74,278.47 1597.01,1241.38 1589.48,1249.33" fill="url(#hgd_35)"/>
<polygon points="580.05,279.19 587.58,271.25 1603.85,1234.16 1596.32,1242.11" fill="url(#hgd_36)"/>
<polygon points="586.90,271.97 594.43,264.02 1610.69,1226.94 1603.16,1234.88" fill="url(#hgd_37)"/>
<polygon points="593.74,264.75 601.27,256.80 1617.54,1219.72 1610.01,1227.66" fill="url(#hgd_38)"/>
<polygon points="600.58,257.53 608.11,249.58 1624.38,1212.49 1616.85,1220.44" fill="url(#hgd_39)"/>
<polygon points="607.42,250.31 614.95,242.36 1631.22,1205.27 1623.69,1213.22" fill="url(#hgd_40)"/>
<polygon points="614.27,243.09 621.80,235.14 1638.06,1198.05 1630.53,1206.00" fill="url(#hgd_41)"/>
<polygon points="621.11,235.86 628.64,227.92 1644.91,1190.83 1637.37,1198.78" fill="url(#hgd_42)"/>
<polygon points="627.95,228.64 635.48,220.70 1651.75,1183.61 1644.22,1191.56" fill="url(#hgd_43)"/>
<polygon points="634.79,221.42 642.32,213.47 1658.59,1176.39 1651.06,1184.33" fill="url(#hgd_44)"/>
<polygon points="641.64,214.20 649.17,206.25 1665.43,1169.17 1657.90,1177.11" fill="url(#hgd_45)"/>
<polygon points="648.48,206.98 656.01,199.03 1672.27,1161.94 1664.74,1169.89" fill="url(#hgd_46)"/>
<polygon points="655.32,199.76 662.85,191.81 1679.12,1154.72 1671.59,1162.67" fill="url(#hgd_47)"/>
<polygon points="662.16,192.53 669.69,184.59 1685.96,1147.50 1678.43,1155.45" fill="url(#hgd_48)"/>
<polygon points="669.01,185.31 676.54,177.37 1692.80,1140.28 1685.27,1148.23" fill="url(#hgd_49)"/>
<polygon points="675.85,178.09 683.38,170.14 1699.64,1133.06 1692.11,1141.01" fill="url(#hgd_50)"/>
<polygon points="682.69,170.87 690.22,162.92 1706.49,1125.84 1698.96,1133.78" fill="url(#hgd_51)"/>
<polygon points="689.53,163.65 697.06,155.70 1713.33,1118.61 1705.80,1126.56" fill="url(#hgd_52)"/>
<polygon points="696.37,156.43 703.90,148.48 1720.17,1111.39 1712.64,1119.34" fill="url(#hgd_53)"/>
<polygon points="703.22,149.21 710.75,141.26 1727.01,1104.17 1719.48,1112.12" fill="url(#hgd_54)"/>
<polygon points="710.06,141.98 716.90,134.76 1733.17,1097.68 1726.33,1104.90" fill="url(#hgd_55)"/>
</g>
<line x1="83.7" y1="255.95" x2="477.7" y2="255.95" stroke="#000" stroke-width="2.2" stroke-dasharray="7.2 3.07" stroke-dashoffset="0.4"/>
<line x1="280.70" y1="453.3" x2="280.70" y2="58.6" stroke="#000" stroke-width="2.2" stroke-dasharray="7.2 3.07" stroke-dashoffset="0.2"/>
<line x1="877.4" y1="257.85" x2="1268.4" y2="257.85" stroke="#000" stroke-width="2.2" stroke-dasharray="7.2 3.07" stroke-dashoffset="0.4"/>
<line x1="1072.90" y1="453.6" x2="1072.90" y2="62.1" stroke="#000" stroke-width="2.2" stroke-dasharray="7.2 3.07" stroke-dashoffset="0.2"/>
<line x1="83.4" y1="860.15" x2="477.7" y2="860.15" stroke="#000" stroke-width="2.2" stroke-dasharray="7.2 3.07" stroke-dashoffset="0.4"/>
<line x1="280.55" y1="1057.4" x2="280.55" y2="662.9" stroke="#000" stroke-width="2.2" stroke-dasharray="7.2 3.07" stroke-dashoffset="0.2"/>
<line x1="878.2" y1="856.75" x2="1269.6" y2="856.75" stroke="#000" stroke-width="2.2" stroke-dasharray="7.2 3.07" stroke-dashoffset="0.4"/>
<line x1="1073.90" y1="1052.3" x2="1073.90" y2="661.2" stroke="#000" stroke-width="2.2" stroke-dasharray="7.2 3.07" stroke-dashoffset="0.2"/>
<line x1="83.70" y1="453.3" x2="83.70" y2="442.80" stroke="#000" stroke-width="2.5"/>
<line x1="83.7" y1="453.30" x2="94.20" y2="453.30" stroke="#000" stroke-width="2.5"/>
<line x1="182.20" y1="453.3" x2="182.20" y2="442.80" stroke="#000" stroke-width="2.5"/>
<line x1="83.7" y1="354.62" x2="94.20" y2="354.62" stroke="#000" stroke-width="2.5"/>
<line x1="280.70" y1="453.3" x2="280.70" y2="442.80" stroke="#000" stroke-width="2.5"/>
<line x1="83.7" y1="255.95" x2="94.20" y2="255.95" stroke="#000" stroke-width="2.5"/>
<line x1="379.20" y1="453.3" x2="379.20" y2="442.80" stroke="#000" stroke-width="2.5"/>
<line x1="83.7" y1="157.28" x2="94.20" y2="157.28" stroke="#000" stroke-width="2.5"/>
<line x1="477.70" y1="453.3" x2="477.70" y2="442.80" stroke="#000" stroke-width="2.5"/>
<line x1="83.7" y1="58.60" x2="94.20" y2="58.60" stroke="#000" stroke-width="2.5"/>
<rect x="83.7" y="58.6" width="394.00" height="394.70" fill="none" stroke="#000" stroke-width="2.9"/>
<line x1="877.40" y1="453.6" x2="877.40" y2="443.10" stroke="#000" stroke-width="2.5"/>
<line x1="877.4" y1="453.60" x2="887.90" y2="453.60" stroke="#000" stroke-width="2.5"/>
<line x1="975.15" y1="453.6" x2="975.15" y2="443.10" stroke="#000" stroke-width="2.5"/>
<line x1="877.4" y1="355.73" x2="887.90" y2="355.73" stroke="#000" stroke-width="2.5"/>
<line x1="1072.90" y1="453.6" x2="1072.90" y2="443.10" stroke="#000" stroke-width="2.5"/>
<line x1="877.4" y1="257.85" x2="887.90" y2="257.85" stroke="#000" stroke-width="2.5"/>
<line x1="1170.65" y1="453.6" x2="1170.65" y2="443.10" stroke="#000" stroke-width="2.5"/>
<line x1="877.4" y1="159.98" x2="887.90" y2="159.98" stroke="#000" stroke-width="2.5"/>
<line x1="1268.40" y1="453.6" x2="1268.40" y2="443.10" stroke="#000" stroke-width="2.5"/>
<line x1="877.4" y1="62.10" x2="887.90" y2="62.10" stroke="#000" stroke-width="2.5"/>
<rect x="877.4" y="62.1" width="391.00" height="391.50" fill="none" stroke="#000" stroke-width="2.9"/>
<line x1="83.40" y1="1057.4" x2="83.40" y2="1046.90" stroke="#000" stroke-width="2.5"/>
<line x1="83.4" y1="1057.40" x2="93.90" y2="1057.40" stroke="#000" stroke-width="2.5"/>
<line x1="181.97" y1="1057.4" x2="181.97" y2="1046.90" stroke="#000" stroke-width="2.5"/>
<line x1="83.4" y1="958.78" x2="93.90" y2="958.78" stroke="#000" stroke-width="2.5"/>
<line x1="280.55" y1="1057.4" x2="280.55" y2="1046.90" stroke="#000" stroke-width="2.5"/>
<line x1="83.4" y1="860.15" x2="93.90" y2="860.15" stroke="#000" stroke-width="2.5"/>
<line x1="379.12" y1="1057.4" x2="379.12" y2="1046.90" stroke="#000" stroke-width="2.5"/>
<line x1="83.4" y1="761.52" x2="93.90" y2="761.52" stroke="#000" stroke-width="2.5"/>
<line x1="477.70" y1="1057.4" x2="477.70" y2="1046.90" stroke="#000" stroke-width="2.5"/>
<line x1="83.4" y1="662.90" x2="93.90" y2="662.90" stroke="#000" stroke-width="2.5"/>
<rect x="83.4" y="662.9" width="394.30" height="394.50" fill="none" stroke="#000" stroke-width="2.9"/>
<line x1="878.20" y1="1052.3" x2="878.20" y2="1041.80" stroke="#000" stroke-width="2.5"/>
<line x1="878.2" y1="1052.30" x2="888.70" y2="1052.30" stroke="#000" stroke-width="2.5"/>
<line x1="976.05" y1="1052.3" x2="976.05" y2="1041.80" stroke="#000" stroke-width="2.5"/>
<line x1="878.2" y1="954.52" x2="888.70" y2="954.52" stroke="#000" stroke-width="2.5"/>
<line x1="1073.90" y1="1052.3" x2="1073.90" y2="1041.80" stroke="#000" stroke-width="2.5"/>
<line x1="878.2" y1="856.75" x2="888.70" y2="856.75" stroke="#000" stroke-width="2.5"/>
<line x1="1171.75" y1="1052.3" x2="1171.75" y2="1041.80" stroke="#000" stroke-width="2.5"/>
<line x1="878.2" y1="758.98" x2="888.70" y2="758.98" stroke="#000" stroke-width="2.5"/>
<line x1="1269.60" y1="1052.3" x2="1269.60" y2="1041.80" stroke="#000" stroke-width="2.5"/>
<line x1="878.2" y1="661.20" x2="888.70" y2="661.20" stroke="#000" stroke-width="2.5"/>
<rect x="878.2" y="661.2" width="391.40" height="391.10" fill="none" stroke="#000" stroke-width="2.9"/>
<line x1="65.44" y1="472.99" x2="83.05" y2="472.99" stroke="#000" stroke-width="2.52"/>
<text x="84.18" y="482.00" font-size="34">2</text>
<line x1="41.06" y1="456.39" x2="58.67" y2="456.39" stroke="#000" stroke-width="2.52"/>
<text x="59.80" y="465.40" font-size="34">2</text>
<line x1="163.94" y1="472.99" x2="181.55" y2="472.99" stroke="#000" stroke-width="2.52"/>
<path d="M194.88,482.00 L191.89,482.00 L191.89,464.83 L186.35,464.83 L186.35,462.69 C189.61,462.69 191.89,461.60 192.60,457.89 L194.88,457.89 Z" fill="#000"/>
<line x1="41.06" y1="357.72" x2="58.67" y2="357.72" stroke="#000" stroke-width="2.52"/>
<path d="M72.00,366.73 L69.01,366.73 L69.01,349.56 L63.47,349.56 L63.47,347.41 C66.73,347.41 69.01,346.33 69.72,342.62 L72.00,342.62 Z" fill="#000"/>
<text x="271.25" y="482.00" font-size="34">0</text>
<text x="59.80" y="268.05" font-size="34">0</text>
<path d="M381.95,482.00 L378.96,482.00 L378.96,464.83 L373.42,464.83 L373.42,462.69 C376.68,462.69 378.96,461.60 379.68,457.89 L381.95,457.89 Z" fill="#000"/>
<path d="M72.00,169.38 L69.01,169.38 L69.01,152.21 L63.47,152.21 L63.47,150.06 C66.73,150.06 69.01,148.98 69.72,145.27 L72.00,145.27 Z" fill="#000"/>
<text x="468.25" y="482.00" font-size="34">2</text>
<text x="59.80" y="70.70" font-size="34">2</text>
<line x1="859.14" y1="473.29" x2="876.75" y2="473.29" stroke="#000" stroke-width="2.52"/>
<text x="877.88" y="482.30" font-size="34">2</text>
<line x1="834.76" y1="456.69" x2="852.37" y2="456.69" stroke="#000" stroke-width="2.52"/>
<text x="853.50" y="465.70" font-size="34">2</text>
<line x1="956.89" y1="473.29" x2="974.50" y2="473.29" stroke="#000" stroke-width="2.52"/>
<path d="M987.83,482.30 L984.84,482.30 L984.84,465.13 L979.30,465.13 L979.30,462.99 C982.56,462.99 984.84,461.90 985.55,458.19 L987.83,458.19 Z" fill="#000"/>
<line x1="834.76" y1="358.82" x2="852.37" y2="358.82" stroke="#000" stroke-width="2.52"/>
<path d="M865.70,367.83 L862.71,367.83 L862.71,350.66 L857.17,350.66 L857.17,348.51 C860.43,348.51 862.71,347.43 863.42,343.72 L865.70,343.72 Z" fill="#000"/>
<text x="1063.45" y="482.30" font-size="34">0</text>
<text x="853.50" y="269.95" font-size="34">0</text>
<path d="M1173.40,482.30 L1170.41,482.30 L1170.41,465.13 L1164.87,465.13 L1164.87,462.99 C1168.13,462.99 1170.41,461.90 1171.13,458.19 L1173.40,458.19 Z" fill="#000"/>
<path d="M865.70,172.08 L862.71,172.08 L862.71,154.91 L857.17,154.91 L857.17,152.76 C860.43,152.76 862.71,151.68 863.42,147.97 L865.70,147.97 Z" fill="#000"/>
<text x="1258.95" y="482.30" font-size="34">2</text>
<text x="853.50" y="74.20" font-size="34">2</text>
<line x1="65.14" y1="1077.09" x2="82.75" y2="1077.09" stroke="#000" stroke-width="2.52"/>
<text x="83.88" y="1086.10" font-size="34">2</text>
<line x1="40.76" y1="1060.49" x2="58.37" y2="1060.49" stroke="#000" stroke-width="2.52"/>
<text x="59.50" y="1069.50" font-size="34">2</text>
<line x1="163.72" y1="1077.09" x2="181.33" y2="1077.09" stroke="#000" stroke-width="2.52"/>
<path d="M194.66,1086.10 L191.66,1086.10 L191.66,1068.93 L186.12,1068.93 L186.12,1066.79 C189.39,1066.79 191.66,1065.70 192.38,1061.99 L194.66,1061.99 Z" fill="#000"/>
<line x1="40.76" y1="961.87" x2="58.37" y2="961.87" stroke="#000" stroke-width="2.52"/>
<path d="M71.70,970.88 L68.71,970.88 L68.71,953.71 L63.17,953.71 L63.17,951.56 C66.43,951.56 68.71,950.48 69.42,946.77 L71.70,946.77 Z" fill="#000"/>
<text x="271.10" y="1086.10" font-size="34">0</text>
<text x="59.50" y="872.25" font-size="34">0</text>
<path d="M381.88,1086.10 L378.89,1086.10 L378.89,1068.93 L373.35,1068.93 L373.35,1066.79 C376.61,1066.79 378.89,1065.70 379.60,1061.99 L381.88,1061.99 Z" fill="#000"/>
<path d="M71.70,773.62 L68.71,773.62 L68.71,756.46 L63.17,756.46 L63.17,754.31 C66.43,754.31 68.71,753.23 69.42,749.52 L71.70,749.52 Z" fill="#000"/>
<text x="468.25" y="1086.10" font-size="34">2</text>
<text x="59.50" y="675.00" font-size="34">2</text>
<line x1="859.94" y1="1071.99" x2="877.55" y2="1071.99" stroke="#000" stroke-width="2.52"/>
<text x="878.68" y="1081.00" font-size="34">2</text>
<line x1="835.56" y1="1055.39" x2="853.17" y2="1055.39" stroke="#000" stroke-width="2.52"/>
<text x="854.30" y="1064.40" font-size="34">2</text>
<line x1="957.79" y1="1071.99" x2="975.40" y2="1071.99" stroke="#000" stroke-width="2.52"/>
<path d="M988.73,1081.00 L985.74,1081.00 L985.74,1063.83 L980.20,1063.83 L980.20,1061.69 C983.46,1061.69 985.74,1060.60 986.45,1056.89 L988.73,1056.89 Z" fill="#000"/>
<line x1="835.56" y1="957.62" x2="853.17" y2="957.62" stroke="#000" stroke-width="2.52"/>
<path d="M866.50,966.62 L863.51,966.62 L863.51,949.46 L857.97,949.46 L857.97,947.31 C861.23,947.31 863.51,946.23 864.22,942.52 L866.50,942.52 Z" fill="#000"/>
<text x="1064.45" y="1081.00" font-size="34">0</text>
<text x="854.30" y="868.85" font-size="34">0</text>
<path d="M1174.50,1081.00 L1171.51,1081.00 L1171.51,1063.83 L1165.97,1063.83 L1165.97,1061.69 C1169.23,1061.69 1171.51,1060.60 1172.23,1056.89 L1174.50,1056.89 Z" fill="#000"/>
<path d="M866.50,771.08 L863.51,771.08 L863.51,753.91 L857.97,753.91 L857.97,751.76 C861.23,751.76 863.51,750.68 864.22,746.97 L866.50,746.97 Z" fill="#000"/>
<text x="1260.15" y="1081.00" font-size="34">2</text>
<text x="854.30" y="673.30" font-size="34">2</text>
<rect x="505.3" y="662.5" width="20.00" height="394.90" fill="url(#cbc)" stroke="#000" stroke-width="2.6"/>
<line x1="525.3" y1="1017.91" x2="515.00" y2="1017.91" stroke="#000" stroke-width="2.5"/>
<line x1="530.72" y1="1021.10" x2="548.33" y2="1021.10" stroke="#000" stroke-width="2.52"/>
<text x="549.46" y="1030.11" font-size="34">0.04</text>
<line x1="525.3" y1="938.93" x2="515.00" y2="938.93" stroke="#000" stroke-width="2.5"/>
<line x1="530.72" y1="942.12" x2="548.33" y2="942.12" stroke="#000" stroke-width="2.52"/>
<text x="549.46" y="951.13" font-size="34">0.02</text>
<line x1="525.3" y1="859.95" x2="515.00" y2="859.95" stroke="#000" stroke-width="2.5"/>
<text x="529.60" y="872.15" font-size="34">0.00</text>
<line x1="525.3" y1="780.97" x2="515.00" y2="780.97" stroke="#000" stroke-width="2.5"/>
<text x="529.60" y="793.17" font-size="34">0.02</text>
<line x1="525.3" y1="701.99" x2="515.00" y2="701.99" stroke="#000" stroke-width="2.5"/>
<text x="529.60" y="714.19" font-size="34">0.04</text>
<rect x="1297.3" y="661.2" width="19.20" height="391.10" fill="url(#cbd)" stroke="#000" stroke-width="2.6"/>
<line x1="1316.5" y1="1013.19" x2="1306.20" y2="1013.19" stroke="#000" stroke-width="2.5"/>
<line x1="1321.92" y1="1016.38" x2="1339.53" y2="1016.38" stroke="#000" stroke-width="2.52"/>
<text x="1340.66" y="1025.39" font-size="34">0.04</text>
<line x1="1316.5" y1="934.97" x2="1306.20" y2="934.97" stroke="#000" stroke-width="2.5"/>
<line x1="1321.92" y1="938.16" x2="1339.53" y2="938.16" stroke="#000" stroke-width="2.52"/>
<text x="1340.66" y="947.17" font-size="34">0.02</text>
<line x1="1316.5" y1="856.75" x2="1306.20" y2="856.75" stroke="#000" stroke-width="2.5"/>
<text x="1320.80" y="868.95" font-size="34">0.00</text>
<line x1="1316.5" y1="778.53" x2="1306.20" y2="778.53" stroke="#000" stroke-width="2.5"/>
<text x="1320.80" y="790.73" font-size="34">0.02</text>
<line x1="1316.5" y1="700.31" x2="1306.20" y2="700.31" stroke="#000" stroke-width="2.5"/>
<text x="1320.80" y="712.51" font-size="34">0.04</text>
<text x="1.00" y="29.50" font-size="36" class="tc">(a)</text>
<text x="794.00" y="31.50" font-size="36" class="tc">(b)</text>
<text x="0.00" y="632.50" font-size="36" class="tc">(c)</text>
<text x="796.50" y="630.50" font-size="36" class="tc">(d)</text>
<text x="237.99" y="27.30" font-size="36" class="tc">(00</text>
<path d="M302.93,27.30 L299.76,27.30 L299.76,9.12 L293.90,9.12 L293.90,6.85 C297.35,6.85 299.76,5.70 300.52,1.78 L302.93,1.78 Z" fill="#231f20"/>
<text x="310.02" y="27.30" font-size="36" class="tc">)</text>
<text x="1032.19" y="31.00" font-size="36" class="tc">(422)</text>
<text x="237.49" y="628.80" font-size="36" class="tc">(00</text>
<path d="M302.43,628.80 L299.26,628.80 L299.26,610.62 L293.40,610.62 L293.40,608.35 C296.85,608.35 299.26,607.20 300.02,603.28 L302.43,603.28 Z" fill="#231f20"/>
<text x="309.52" y="628.80" font-size="36" class="tc">)</text>
<text x="1030.09" y="627.70" font-size="36" class="tc">(422)</text>
<g transform="translate(216.5,522.6)">
<text x="-1.3" y="0" font-size="31" font-style="italic" transform="matrix(1.1 0 -0.1 1 0 0)">ε</text>
<text x="16.70" y="-13.20" font-size="22">[</text>
<path d="M30.71,-13.20 L28.78,-13.20 L28.78,-24.31 L25.19,-24.31 L25.19,-25.70 C27.30,-25.70 28.78,-26.40 29.24,-28.80 L30.71,-28.80 Z" fill="#000"/>
<text x="35.05" y="-13.20" font-size="22">00]</text>
<text x="77" y="0" font-size="34">(%)</text>
</g>
<g transform="translate(1008.7,526.9)">
<text x="-1.3" y="0" font-size="31" font-style="italic" transform="matrix(1.1 0 -0.1 1 0 0)">ε</text>
<text x="16.70" y="-13.20" font-size="22">[0</text>
<path d="M42.95,-13.20 L41.01,-13.20 L41.01,-24.31 L37.42,-24.31 L37.42,-25.70 C39.54,-25.70 41.01,-26.40 41.47,-28.80 L42.95,-28.80 Z" fill="#000"/>
<path d="M55.18,-13.20 L53.24,-13.20 L53.24,-24.31 L49.66,-24.31 L49.66,-25.70 C51.77,-25.70 53.24,-26.40 53.70,-28.80 L55.18,-28.80 Z" fill="#000"/>
<text x="59.51" y="-13.20" font-size="22">]</text>
<line x1="39.28" y1="-33.3" x2="46.68" y2="-33.3" stroke="#000" stroke-width="1.5"/>
<text x="77" y="0" font-size="34">(%)</text>
</g>
<g transform="translate(216.3,1126.3)">
<text x="-1.3" y="0" font-size="31" font-style="italic" transform="matrix(1.1 0 -0.1 1 0 0)">ε</text>
<text x="16.70" y="-13.20" font-size="22">[</text>
<path d="M30.71,-13.20 L28.78,-13.20 L28.78,-24.31 L25.19,-24.31 L25.19,-25.70 C27.30,-25.70 28.78,-26.40 29.24,-28.80 L30.71,-28.80 Z" fill="#000"/>
<text x="35.05" y="-13.20" font-size="22">00]</text>
<text x="77" y="0" font-size="34">(%)</text>
</g>
<g transform="translate(1009.9,1126.0)">
<text x="-1.3" y="0" font-size="31" font-style="italic" transform="matrix(1.1 0 -0.1 1 0 0)">ε</text>
<text x="16.70" y="-13.20" font-size="22">[0</text>
<path d="M42.95,-13.20 L41.01,-13.20 L41.01,-24.31 L37.42,-24.31 L37.42,-25.70 C39.54,-25.70 41.01,-26.40 41.47,-28.80 L42.95,-28.80 Z" fill="#000"/>
<path d="M55.18,-13.20 L53.24,-13.20 L53.24,-24.31 L49.66,-24.31 L49.66,-25.70 C51.77,-25.70 53.24,-26.40 53.70,-28.80 L55.18,-28.80 Z" fill="#000"/>
<text x="59.51" y="-13.20" font-size="22">]</text>
<line x1="39.28" y1="-33.3" x2="46.68" y2="-33.3" stroke="#000" stroke-width="1.5"/>
<text x="77" y="0" font-size="34">(%)</text>
</g>
<g transform="translate(29.4,320.3) rotate(-90)">
<text x="-1.3" y="0" font-size="31" font-style="italic" transform="matrix(1.1 0 -0.1 1 0 0)">ε</text>
<text x="16.70" y="-13.20" font-size="22">[0</text>
<path d="M42.95,-13.20 L41.01,-13.20 L41.01,-24.31 L37.42,-24.31 L37.42,-25.70 C39.54,-25.70 41.01,-26.40 41.47,-28.80 L42.95,-28.80 Z" fill="#000"/>
<text x="47.28" y="-13.20" font-size="22">0]</text>
<text x="77" y="0" font-size="34">(%)</text>
</g>
<g transform="translate(823.3,321.6) rotate(-90)">
<text x="-1.3" y="0" font-size="31" font-style="italic" transform="matrix(1.1 0 -0.1 1 0 0)">ε</text>
<text x="16.70" y="-13.20" font-size="22">[</text>
<path d="M30.71,-13.20 L28.78,-13.20 L28.78,-24.31 L25.19,-24.31 L25.19,-25.70 C27.30,-25.70 28.78,-26.40 29.24,-28.80 L30.71,-28.80 Z" fill="#000"/>
<path d="M42.95,-13.20 L41.01,-13.20 L41.01,-24.31 L37.42,-24.31 L37.42,-25.70 C39.54,-25.70 41.01,-26.40 41.47,-28.80 L42.95,-28.80 Z" fill="#000"/>
<path d="M55.18,-13.20 L53.24,-13.20 L53.24,-24.31 L49.66,-24.31 L49.66,-25.70 C51.77,-25.70 53.24,-26.40 53.70,-28.80 L55.18,-28.80 Z" fill="#000"/>
<text x="59.51" y="-13.20" font-size="22">]</text>
<line x1="39.28" y1="-33.3" x2="46.68" y2="-33.3" stroke="#000" stroke-width="1.5"/>
<line x1="51.51" y1="-33.3" x2="58.91" y2="-33.3" stroke="#000" stroke-width="1.5"/>
<text x="77" y="0" font-size="34">(%)</text>
</g>
<g transform="translate(29.4,924.0) rotate(-90)">
<text x="-1.3" y="0" font-size="31" font-style="italic" transform="matrix(1.1 0 -0.1 1 0 0)">ε</text>
<text x="16.70" y="-13.20" font-size="22">[0</text>
<path d="M42.95,-13.20 L41.01,-13.20 L41.01,-24.31 L37.42,-24.31 L37.42,-25.70 C39.54,-25.70 41.01,-26.40 41.47,-28.80 L42.95,-28.80 Z" fill="#000"/>
<text x="47.28" y="-13.20" font-size="22">0]</text>
<text x="77" y="0" font-size="34">(%)</text>
</g>
<g transform="translate(823.7,920.8) rotate(-90)">
<text x="-1.3" y="0" font-size="31" font-style="italic" transform="matrix(1.1 0 -0.1 1 0 0)">ε</text>
<text x="16.70" y="-13.20" font-size="22">[</text>
<path d="M30.71,-13.20 L28.78,-13.20 L28.78,-24.31 L25.19,-24.31 L25.19,-25.70 C27.30,-25.70 28.78,-26.40 29.24,-28.80 L30.71,-28.80 Z" fill="#000"/>
<path d="M42.95,-13.20 L41.01,-13.20 L41.01,-24.31 L37.42,-24.31 L37.42,-25.70 C39.54,-25.70 41.01,-26.40 41.47,-28.80 L42.95,-28.80 Z" fill="#000"/>
<path d="M55.18,-13.20 L53.24,-13.20 L53.24,-24.31 L49.66,-24.31 L49.66,-25.70 C51.77,-25.70 53.24,-26.40 53.70,-28.80 L55.18,-28.80 Z" fill="#000"/>
<text x="59.51" y="-13.20" font-size="22">]</text>
<line x1="39.28" y1="-33.3" x2="46.68" y2="-33.3" stroke="#000" stroke-width="1.5"/>
<line x1="51.51" y1="-33.3" x2="58.91" y2="-33.3" stroke="#000" stroke-width="1.5"/>
<text x="77" y="0" font-size="34">(%)</text>
</g>
<g transform="translate(644.9,942.7) rotate(-90)">
<text x="-1.5" y="0" font-size="33" font-style="italic">E</text>
<text x="19.3" y="3.5" font-size="21">MCA</text>
<text x="77.5" y="0" font-size="33">(meV)</text>
</g>
<g transform="translate(1435.8,939.8) rotate(-90)">
<text x="-1.5" y="0" font-size="33" font-style="italic">E</text>
<text x="19.3" y="3.5" font-size="21">MCA</text>
<text x="77.5" y="0" font-size="33">(meV)</text>
</g>
<rect x="518.6" y="72.1" width="142.40" height="122.70" fill="#fff" stroke="#231f20" stroke-width="2"/>
<rect x="528" y="82.10" width="49.5" height="24.5" fill="#7e8186"/>
<text x="588" y="104.50" font-size="31" class="serif">[100]</text>
<rect x="528" y="119.80" width="49.5" height="24.5" fill="#007c41"/>
<text x="588" y="142.20" font-size="31" class="serif">[010]</text>
<rect x="528" y="157.50" width="49.5" height="24.5" fill="#e92534"/>
<text x="588" y="179.90" font-size="31" class="serif">[110]</text>
<rect x="1307.8" y="75" width="142.50" height="83.50" fill="#fff" stroke="#231f20" stroke-width="2"/>
<rect x="1317.2" y="84.20" width="49.5" height="24.5" fill="#e92534"/>
<text x="1377.0" y="106.60" font-size="31" class="serif">[011]</text>
<line x1="1404.07" y1="82.70" x2="1415.07" y2="82.70" stroke="#231f20" stroke-width="1.7"/>
<rect x="1317.2" y="121.90" width="49.5" height="24.5" fill="#3f5ea9"/>
<text x="1377.0" y="144.30" font-size="31" class="serif">[111]</text>
<line x1="1404.07" y1="120.40" x2="1415.07" y2="120.40" stroke="#231f20" stroke-width="1.7"/>
<line x1="1419.57" y1="120.40" x2="1430.57" y2="120.40" stroke="#231f20" stroke-width="1.7"/>
</svg>
</body></html>
